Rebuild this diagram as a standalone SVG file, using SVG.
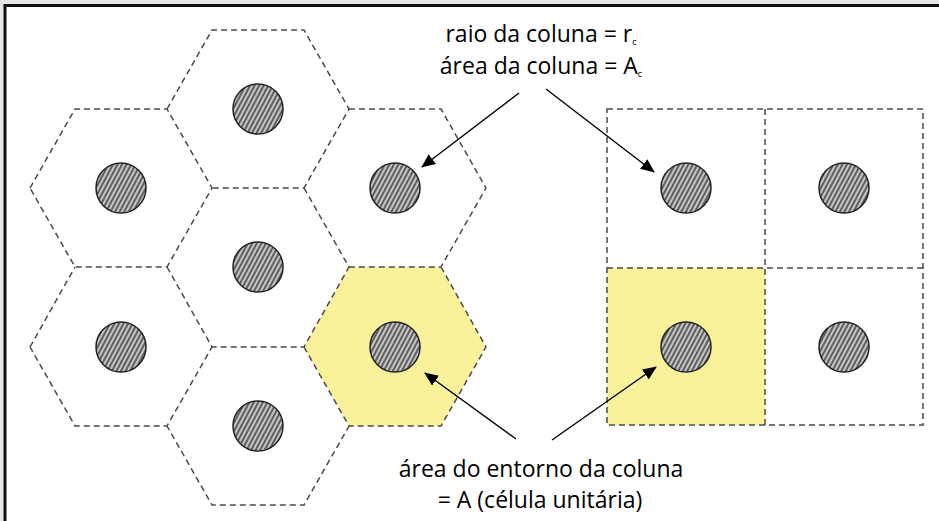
<svg xmlns="http://www.w3.org/2000/svg" width="939" height="521" viewBox="0 0 939 521">
  <style>
    .grid { fill: none; stroke: #4a4a4a; stroke-width: 1.5; stroke-dasharray: 6 4; }
    .hl { fill: #faf29b; stroke: none; }
    .col { fill: url(#hatch); stroke: #222; stroke-width: 1.5; }
    .lbl { font-family: "Open Sans", "Liberation Sans", sans-serif; font-size: 23px; fill: #000; }
    .sub { font-size: 9px; }
    .conn { stroke: #000; stroke-width: 1.4; fill: none; marker-end: url(#arrow); }
  </style>
  <defs>
    <pattern id="hatch" width="4" height="4" patternUnits="userSpaceOnUse" patternTransform="rotate(28)">
      <rect width="4" height="4" fill="#c4c4c4"/>
      <line x1="1" y1="0" x2="1" y2="4" stroke="#1a1a1a" stroke-width="1.2"/>
    </pattern>
    <marker id="arrow" markerWidth="14" markerHeight="12" refX="13" refY="6" orient="auto" markerUnits="userSpaceOnUse">
      <path d="M0,0 L14,6 L0,12 Z" fill="#000"/>
    </marker>
  </defs>

  <rect x="0" y="0" width="939" height="521" fill="#e5e7e5"/>
  <rect x="5" y="5.5" width="940" height="520" fill="#fff" stroke="#111" stroke-width="3"/>

  <!-- highlighted unit cells -->
  <g id="highlight-hex">
    <polygon class="hl" points="304,347 349,267 441,267 486,347 441,426 349,426"/>
  </g>
  <g id="highlight-square">
    <rect class="hl" x="607" y="268" width="158" height="157"/>
  </g>

  <!-- hexagonal grid -->
  <g id="hex-grid">
    <path class="grid" d="M30,188 L75,109 L167,109 L212,188 L167,267 L75,267 L30,188"/>
    <path class="grid" d="M30,347 L75,267 M167,267 L212,347 L167,426 L75,426 L30,347"/>
    <path class="grid" d="M167,109 L212,30 L304,30 L349,109 L304,188 L212,188"/>
    <path class="grid" d="M304,188 L349,267 L304,347 L212,347"/>
    <path class="grid" d="M304,347 L349,426 L304,505 L212,505 L167,426"/>
    <path class="grid" d="M349,109 L441,109 L486,188 L441,267 L349,267"/>
    <path class="grid" d="M441,267 L486,347 L441,426 L349,426"/>
  </g>

  <!-- square grid -->
  <g id="square-grid">
    <rect class="grid" x="607" y="109" width="316" height="316"/>
    <path class="grid" d="M765,109 L765,425 M607,268 L923,268"/>
  </g>

  <!-- columns -->
  <g id="hex-col-1"><circle class="col" cx="258" cy="109" r="25"/></g>
  <g id="hex-col-2"><circle class="col" cx="121" cy="188" r="25"/></g>
  <g id="hex-col-3"><circle class="col" cx="395" cy="188" r="25"/></g>
  <g id="hex-col-4"><circle class="col" cx="258" cy="267" r="25"/></g>
  <g id="hex-col-5"><circle class="col" cx="121" cy="347" r="25"/></g>
  <g id="hex-col-6"><circle class="col" cx="395" cy="347" r="25"/></g>
  <g id="hex-col-7"><circle class="col" cx="258" cy="426" r="25"/></g>
  <g id="sq-col-1"><circle class="col" cx="686" cy="188" r="25"/></g>
  <g id="sq-col-2"><circle class="col" cx="844" cy="188" r="25"/></g>
  <g id="sq-col-3"><circle class="col" cx="686" cy="347" r="25"/></g>
  <g id="sq-col-4"><circle class="col" cx="844" cy="347" r="25"/></g>

  <!-- labels -->
  <g id="label-top">
    <text class="lbl" x="541" y="42" text-anchor="middle">raio da coluna = r<tspan class="sub" dy="3">c</tspan></text>
    <text class="lbl" x="541" y="74" text-anchor="middle">área da coluna = A<tspan class="sub" dy="3">c</tspan></text>
  </g>
  <g id="label-bottom">
    <text class="lbl" x="541" y="477" text-anchor="middle">área do entorno da coluna</text>
    <text class="lbl" x="540" y="508" text-anchor="middle">= A (célula unitária)</text>
  </g>

  <!-- connectors -->
  <g id="connectors">
    <line class="conn" x1="519" y1="93" x2="422" y2="167"/>
    <line class="conn" x1="546" y1="89" x2="654" y2="172"/>
    <line class="conn" x1="516" y1="439" x2="425" y2="373"/>
    <line class="conn" x1="552" y1="440" x2="656" y2="367"/>
  </g>
</svg>
